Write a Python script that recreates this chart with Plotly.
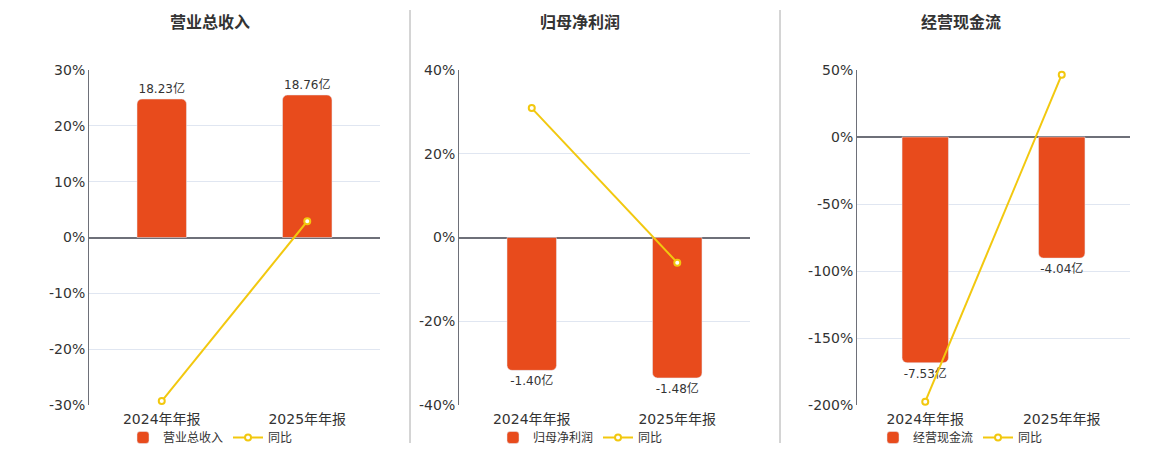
import plotly.graph_objects as go

# data
categories = ['2024年年报', '2025年年报']
panel_titles = ['营业总收入', '归母净利润', '经营现金流']
bar_values = [[18.23, 18.76], [-1.40, -1.48], [-7.53, -4.04]]   # 亿
yoy_values = [[-29.3, 2.91], [30.9, -6.0], [-197.5, 46.5]]       # %

# axis settings per panel
pct_ranges = [[-30, 30], [-40, 40], [-200, 50]]
pct_dticks = [10, 20, 50]
bar_ranges = [[-22.05, 22.05], [-1.765, 1.765], [-8.94, 2.236]]

BAR_COLOR = '#E84B1C'
LINE_COLOR = '#F2C80F'
FONT = 'DejaVu Sans, Noto Sans CJK SC, sans-serif'
W, H = 1160, 450
OFF = 8  # page body margin
M_T, M_B = 70 - OFF, H - (405 - OFF)
plot_h = H - M_T - M_B


def px_x(x):
    return (x - OFF) / W


def px_y(y):
    return (H - M_B - (y - OFF)) / plot_h


x_px = [(89, 380), (459, 750), (857, 1130)]
title_px = [210, 580, 961]
legend_px = [123, 493, 873]

fig = go.Figure()

for i in range(3):
    n = i + 1
    xa = 'x' if n == 1 else f'x{n}'
    ya_bar = 'y' if n == 1 else f'y{2 * n - 1}'
    ya_line = f'y{2 * n}'
    leg = 'legend' if n == 1 else f'legend{n}'

    fig.add_trace(go.Bar(
        x=categories, y=bar_values[i], name=panel_titles[i],
        xaxis=xa, yaxis=ya_bar, legend=leg,
        marker=dict(color=BAR_COLOR, cornerradius=5),
        width=0.34,
        text=[f'{v:.2f}亿' for v in bar_values[i]],
        textposition='outside', cliponaxis=False,
        textfont=dict(size=12, color='#333333', family=FONT),
        hoverinfo='skip',
    ))
    fig.add_trace(go.Scatter(
        x=categories, y=yoy_values[i], name='同比',
        xaxis=xa, yaxis=ya_line, legend=leg,
        mode='lines+markers',
        line=dict(color=LINE_COLOR, width=2),
        marker=dict(size=6, color='white', line=dict(color=LINE_COLOR, width=2)),
        cliponaxis=False,
    ))

    lo, hi = pct_ranges[i]
    tickvals = list(range(lo, hi + 1, pct_dticks[i]))
    ticktext = [f'{v}%' for v in tickvals]

    x0, x1 = x_px[i]
    xkey = 'xaxis' if n == 1 else f'xaxis{n}'
    ybar_key = 'yaxis' if n == 1 else f'yaxis{2 * n - 1}'
    yline_key = f'yaxis{2 * n}'

    fig.update_layout(**{
        xkey: dict(domain=[px_x(x0), px_x(x1)], anchor=ya_bar, showgrid=False,
                   showline=False, ticks='', ticklabelstandoff=4,
                   tickfont=dict(size=14, color='#333333', family=FONT)),
        ybar_key: dict(domain=[0, 1], anchor=xa, range=bar_ranges[i], visible=False,
                       showgrid=False, zeroline=False),
        yline_key: dict(overlaying=ya_bar, anchor=xa, side='left',
                        range=pct_ranges[i], tickvals=tickvals, ticktext=ticktext,
                        showgrid=True, gridcolor='#E0E6F1', gridwidth=1,
                        zeroline=True, zerolinecolor='#6E7079', zerolinewidth=2,
                        showline=True, linecolor='#6E7079', linewidth=1,
                        ticks='', tickfont=dict(size=14, color='#333333', family=FONT)),
        leg: dict(orientation='h', x=px_x(legend_px[i]), y=px_y(423),
                  xanchor='left', yanchor='top', bgcolor='rgba(0,0,0,0)',
                  font=dict(size=12, color='#333333', family=FONT),
                  itemwidth=30, tracegroupgap=0),
    })

    fig.add_annotation(text=f'<b>{panel_titles[i]}</b>', xref='paper', yref='paper',
                       x=px_x(title_px[i]), y=px_y(22),
                       xanchor='center', yanchor='middle', showarrow=False,
                       font=dict(size=16, color='#333333', family=FONT))

for sx in (410, 780):
    fig.add_shape(type='line', xref='paper', yref='paper',
                  x0=px_x(sx), x1=px_x(sx), y0=px_y(10), y1=px_y(443),
                  line=dict(color='#AAAAAA', width=1))

fig.update_layout(
    width=W, height=H,
    margin=dict(l=0, r=0, t=M_T, b=M_B),
    paper_bgcolor='white', plot_bgcolor='white',
    font=dict(family=FONT, color='#333333'),
    barmode='group',
)

fig.write_html('out.html')
